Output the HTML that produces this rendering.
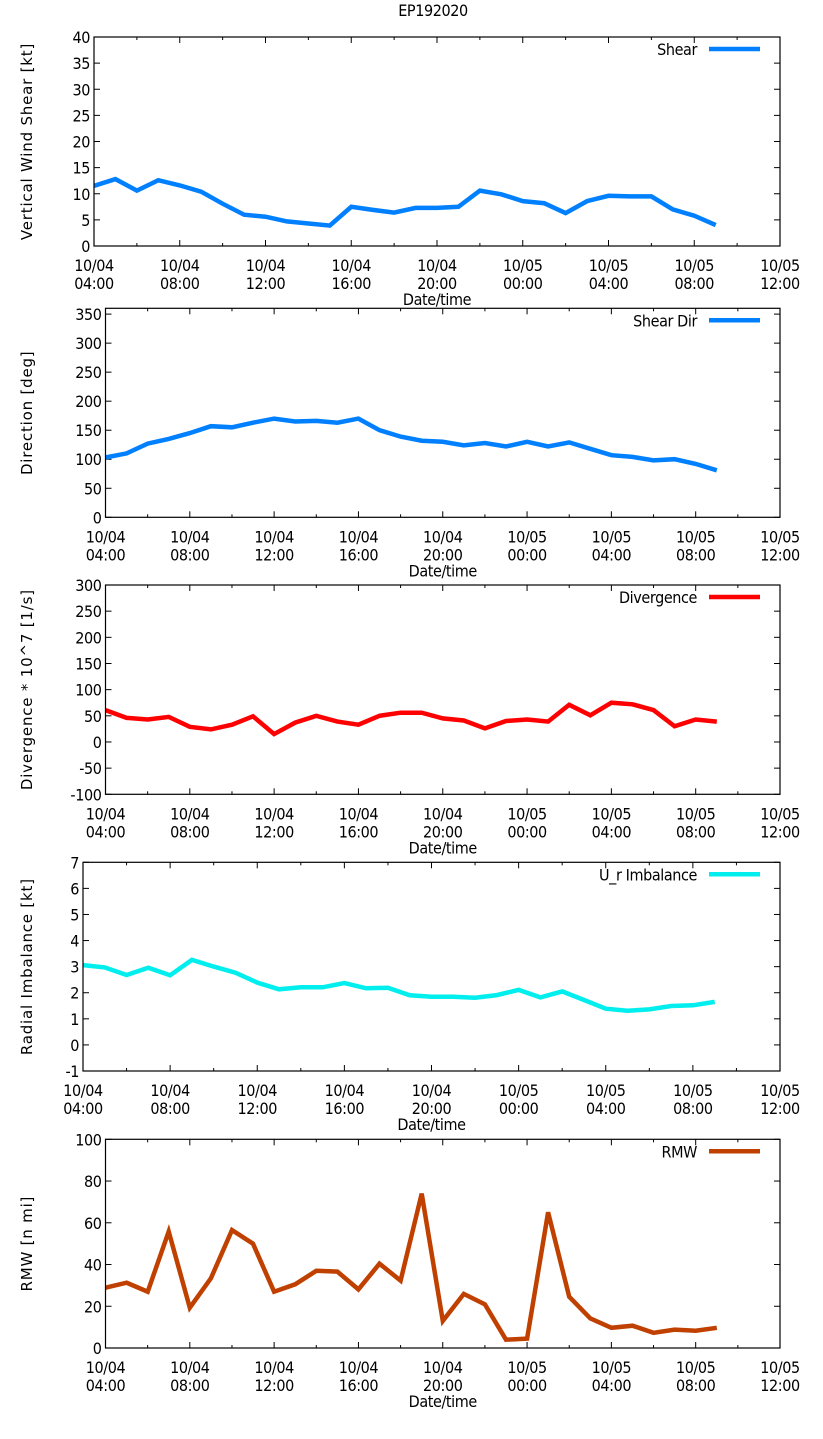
<!DOCTYPE html>
<html><head><meta charset="utf-8"><style>
html,body{margin:0;padding:0;background:#fff;}
svg{display:block;}
text{font-family:"DejaVu Sans Condensed","Liberation Sans Narrow","Liberation Sans",sans-serif;font-size:16px;letter-spacing:-0.4px;fill:#000;}
.yt{font-family:"DejaVu Sans","Liberation Sans",sans-serif;font-size:15px;letter-spacing:0.8px;}
</style></head><body>
<svg id="chart" width="823" height="1439" viewBox="0 0 823 1439">
<text x="433" y="16" text-anchor="middle">EP192020</text>
</svg>
<script>
const hours = [0,1,2,3,4,5,6,7,8,9,10,11,12,13,14,15,16,17,18,19,20,21,22,23,24,25,26,27,28,29];
const xTickDates = ["10/04","10/04","10/04","10/04","10/04","10/05","10/05","10/05","10/05"];
const xTickTimes = ["04:00","08:00","12:00","16:00","20:00","00:00","04:00","08:00","12:00"];
const shearValues = [11.5,12.8,10.6,12.6,11.6,10.4,8.1,6.0,5.6,4.7,4.3,3.9,7.5,6.9,6.4,7.3,7.3,7.5,10.6,9.9,8.6,8.2,6.3,8.6,9.6,9.5,9.5,7.0,5.8,4.0];
const shearDirValues = [103,110,127,135,145,157,155,163,170,165,166,163,170,150,139,132,130,124,128,122,130,122,129,118,107,104,98,100,92,81];
const divergenceValues = [61,46,43,48,29,24,33,49,15,37,50,39,33,50,56,56,45,41,26,40,43,39,71,51,75,72,61,30,43,39];
const imbalanceValues = [3.06,2.97,2.68,2.96,2.67,3.26,3.0,2.77,2.39,2.13,2.21,2.21,2.37,2.17,2.19,1.90,1.85,1.85,1.81,1.91,2.11,1.82,2.05,1.72,1.39,1.31,1.36,1.49,1.52,1.65];
const rmwValues = [28.9,31.3,27,55.8,19.3,33.4,56.5,50,27,30.5,37,36.6,28.1,40.4,32.3,74,13,25.9,20.9,4,4.5,65,24.6,14.2,9.7,10.7,7.3,8.8,8.3,9.7];
const shearTicks = [0,5,10,15,20,25,30,35,40];
const dirTicks = [0,50,100,150,200,250,300,350];
const divTicks = [-100,-50,0,50,100,150,200,250,300];
const imbTicks = [-1,0,1,2,3,4,5,6,7];
const rmwTicks = [0,20,40,60,80,100];

const NS = "http://www.w3.org/2000/svg";
const svg = document.getElementById('chart');
function mk(tag, attrs, parent){
  const e = document.createElementNS(NS, tag);
  for (const k in attrs) e.setAttribute(k, attrs[k]);
  (parent||svg).appendChild(e); return e;
}
const panels = [
 {key:'shear', left:94, top:37, bottom:246, ymin:0, ymax:40, ticks:shearTicks, vals:shearValues, color:'#0080ff', label:'Shear', ytitle:'Vertical Wind Shear [kt]'},
 {key:'shear-dir', left:105.5, top:308.3, bottom:517.3, ymin:0, ymax:360, ticks:dirTicks, vals:shearDirValues, color:'#0080ff', label:'Shear Dir', ytitle:'Direction [deg]'},
 {key:'divergence', left:105.5, top:585, bottom:794.3, ymin:-100, ymax:300, ticks:divTicks, vals:divergenceValues, color:'#ff0000', label:'Divergence', ytitle:'Divergence * 10^7 [1/s]'},
 {key:'imbalance', left:83, top:862.3, bottom:1071, ymin:-1, ymax:7, ticks:imbTicks, vals:imbalanceValues, color:'#00eeee', label:'U_r Imbalance', ytitle:'Radial Imbalance [kt]'},
 {key:'rmw', left:105.5, top:1139.3, bottom:1348, ymin:0, ymax:100, ticks:rmwTicks, vals:rmwValues, color:'#c04000', label:'RMW', ytitle:'RMW [n mi]'}
];
const RIGHT = 780, XSPAN = 32;
panels.forEach(p=>{
  const g = mk('g',{});
  
  
  const xs = h => p.left + (RIGHT-p.left)*h/XSPAN;
  const ys = v => p.bottom - (p.bottom-p.top)*(v-p.ymin)/(p.ymax-p.ymin);
  p.ticks.forEach(t=>{
    const y = ys(t);
    mk('line',{x1:p.left,x2:p.left+6,y1:y,y2:y,stroke:'#000','stroke-width':1},g);
    mk('line',{x1:RIGHT-6,x2:RIGHT,y1:y,y2:y,stroke:'#000','stroke-width':1},g);
    const tx = mk('text',{x:p.left-4,y:y+6,'text-anchor':'end'},g);
    tx.textContent = t;
    
    
  });
  for(let h=0; h<=XSPAN; h+=2){
    const x = xs(h), len = (h%4===0)?6:3;
    mk('line',{x1:x,x2:x,y1:p.bottom,y2:p.bottom-len,stroke:'#000','stroke-width':1},g);
    mk('line',{x1:x,x2:x,y1:p.top,y2:p.top+len,stroke:'#000','stroke-width':1},g);
  }
  xTickDates.forEach((d,i)=>{
    const x = xs(i*4);
    const t1 = mk('text',{x:x,y:p.bottom+25,'text-anchor':'middle'},g);
    t1.textContent = d;
    
    
    const t2 = mk('text',{x:x,y:p.bottom+43,'text-anchor':'middle'},g);
    t2.textContent = xTickTimes[i];
    
    
  });
  const xt = mk('text',{x:(p.left+RIGHT)/2,y:p.bottom+59,'text-anchor':'middle'},g);
  xt.textContent = 'Date/time';
  
  
  const cy = (p.top+p.bottom)/2;
  const yt = mk('text',{x:0,y:0,'text-anchor':'middle','class':'yt',transform:`translate(32,${cy}) rotate(-90)`},g);
  yt.textContent = p.ytitle;
  
  
  const pts = hours.map((h,i)=>xs(h).toFixed(1)+','+ys(p.vals[i]).toFixed(1)).join(' ');
  const pl = mk('polyline',{points:pts,fill:'none',stroke:p.color,'stroke-width':4.5,'stroke-linejoin':'miter'},g);
  
  
  const lt = mk('text',{x:697,y:p.top+18,'text-anchor':'end'},g);
  lt.textContent = p.label;
  
  
  const ll = mk('line',{x1:709,x2:760,y1:p.top+12,y2:p.top+12,stroke:p.color,'stroke-width':4.5},g);
  
  
  const fr = mk('rect',{x:p.left,y:p.top,width:RIGHT-p.left,height:p.bottom-p.top,fill:'none',stroke:'#000','stroke-width':1.2},g);
  
  
});
</script>
</body></html>
